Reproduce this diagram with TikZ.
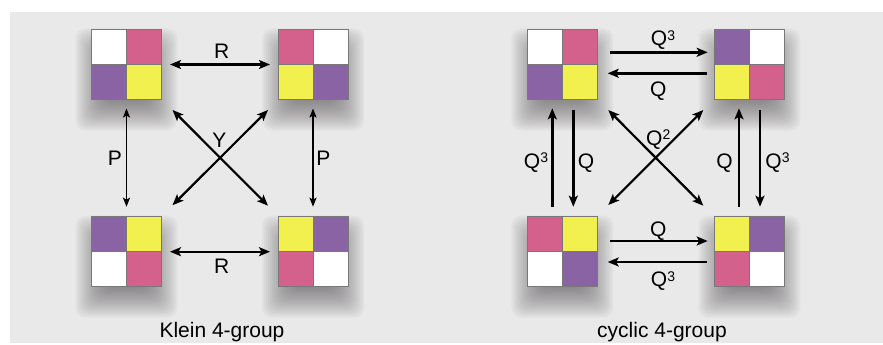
\documentclass[tikz,border=0pt]{standalone}
\usepackage{fontspec}
\setmainfont{Liberation Sans}
\usetikzlibrary{arrows.meta}

\definecolor{bg}{RGB}{233,233,233}
\definecolor{tpink}{RGB}{211,97,140}
\definecolor{tpurple}{RGB}{137,99,163}
\definecolor{tyellow}{RGB}{242,240,78}
\definecolor{tedge}{RGB}{120,120,120}
\definecolor{shadowtone}{RGB}{60,55,58}

\tikzset{
  tilebox/.style={minimum size=70pt, inner sep=0pt, outer sep=0pt},
  bigtip/.tip={Stealth[length=11pt,width=9pt,inset=2.5pt]},
  smalltip/.tip={Stealth[length=9pt,width=7pt,inset=2pt]},
  onearr/.style={line width=2.6pt, -bigtip},
  twoarr/.style={line width=2.3pt, bigtip-bigtip},
  diagarr/.style={line width=2.2pt, bigtip-bigtip},
  thinarr/.style={line width=1.8pt, smalltip-smalltip},
  lbl/.style={font=\fontsize{21}{21}\selectfont, inner sep=0pt, anchor=base},
}

% superscript exponent
\newcommand\pw[1]{\raisebox{5.5pt}{\fontsize{14}{14}\selectfont #1}}

% a 2x2 coloured tile with a soft drop shadow: name, x, y, NW, NE, SW, SE
\newcommand\colortile[7]{%
  \node[tilebox] (#1) at (#2,#3) {};
  \foreach \d in {-14,-12,...,16}{
    \fill[shadowtone, opacity=0.042, rounded corners=10pt]
      ([xshift=-\d pt, yshift=\d pt - 15pt]#1.north west) rectangle
      ([xshift=\d pt, yshift=-\d pt - 15pt]#1.south east);
  }
  \fill[#4] (#1.north west) rectangle (#1.center);
  \fill[#5] (#1.north) rectangle (#1.east);
  \fill[#6] (#1.west) rectangle (#1.south);
  \fill[#7] (#1.center) rectangle (#1.south east);
  \draw[tedge, line width=1pt] (#1.north) -- (#1.south) (#1.west) -- (#1.east)
    (#1.north west) rectangle (#1.south east);
}

\begin{document}
\begin{tikzpicture}[x=1pt, y=-1pt]
\useasboundingbox (0,0) rectangle (883,345);
\fill[bg] (10,12) rectangle (883,343);

% Klein 4-group
\colortile{kA}{126.5}{64.5}{white}{tpink}{tpurple}{tyellow}
\colortile{kB}{313}{64.5}{tpink}{white}{tyellow}{tpurple}
\colortile{kC}{126.5}{251.7}{tpurple}{tyellow}{white}{tpink}
\colortile{kD}{313}{251.7}{tyellow}{tpurple}{tpink}{white}

\draw[twoarr] ([xshift=8.5pt]kA.east) -- ([xshift=-8pt]kB.west);
\draw[twoarr] ([xshift=8.5pt]kC.east) -- ([xshift=-8pt]kD.west);
\draw[thinarr] ([yshift=-9pt]kA.south) -- ([yshift=10pt]kC.north);
\draw[thinarr] ([yshift=-9pt]kB.south) -- ([yshift=10pt]kD.north);
\draw[diagarr] ([xshift=11pt,yshift=-10.5pt]kA.south east) -- ([xshift=-10pt,yshift=11pt]kD.north west);
\draw[diagarr] ([xshift=-10pt,yshift=-10.5pt]kB.south west) -- ([xshift=11pt,yshift=11.5pt]kC.north east);

\node[lbl] (kR1) at (221.7,59) {R};
\node[lbl] (kR2) at (221.7,273.5) {R};
\node[lbl] (kP1) at (115,165.8) {P};
\node[lbl] (kP2) at (323.3,165.8) {P};
\node[lbl] (kY) at (219.3,147.5) {Y};
\node[lbl] (kname) at (222,337) {Klein 4-group};

% cyclic 4-group
\colortile{cA}{562.3}{64.5}{white}{tpink}{tpurple}{tyellow}
\colortile{cB}{749.3}{64.5}{tpurple}{white}{tyellow}{tpink}
\colortile{cC}{562.3}{251.7}{tpink}{tyellow}{white}{tpurple}
\colortile{cD}{749.3}{251.7}{tyellow}{tpurple}{tpink}{white}

\draw[onearr] ([xshift=12.7pt,yshift=12.2pt]cA.east) -- ([xshift=-6.6pt,yshift=12.2pt]cB.west);
\draw[onearr] ([xshift=-7.6pt,yshift=-8.8pt]cB.west) -- ([xshift=10.4pt,yshift=-8.8pt]cA.east);
\draw[onearr] ([xshift=12.7pt,yshift=10.7pt]cC.east) -- ([xshift=-6.6pt,yshift=10.7pt]cD.west);
\draw[onearr] ([xshift=-7.6pt,yshift=-10.3pt]cD.west) -- ([xshift=10.4pt,yshift=-10.3pt]cC.east);

\draw[onearr] ([xshift=-10pt,yshift=10pt]cC.north) -- ([xshift=-10pt,yshift=-8.8pt]cA.south);
\draw[onearr] ([xshift=11pt,yshift=-10.5pt]cA.south) -- ([xshift=11pt,yshift=10pt]cC.north);
\draw[onearr] ([xshift=-10.3pt,yshift=10pt]cD.north) -- ([xshift=-10.3pt,yshift=-8.8pt]cB.south);
\draw[onearr] ([xshift=10.7pt,yshift=-10.5pt]cB.south) -- ([xshift=10.7pt,yshift=10pt]cD.north);

\draw[diagarr] ([xshift=11pt,yshift=-10.5pt]cA.south east) -- ([xshift=-11pt,yshift=11pt]cD.north west);
\draw[diagarr] ([xshift=-11pt,yshift=-10.5pt]cB.south west) -- ([xshift=11pt,yshift=11.7pt]cC.north east);

\node[lbl] (cQ3a) at (663,45.8) {Q\pw{3}};
\node[lbl] (cQa) at (658.3,96.7) {Q};
\node[lbl] (cQb) at (658.3,236.7) {Q};
\node[lbl] (cQ3b) at (663,286.7) {Q\pw{3}};
\node[lbl] (cQ3c) at (536,168.3) {Q\pw{3}};
\node[lbl] (cQc) at (586,168.3) {Q};
\node[lbl] (cQd) at (724.5,168.3) {Q};
\node[lbl] (cQ3d) at (777.5,168.3) {Q\pw{3}};
\node[lbl] (cQ2) at (658.3,145) {Q\pw{2}};
\node[lbl] (cname) at (662,337) {cyclic 4-group};
\end{tikzpicture}
\end{document}
